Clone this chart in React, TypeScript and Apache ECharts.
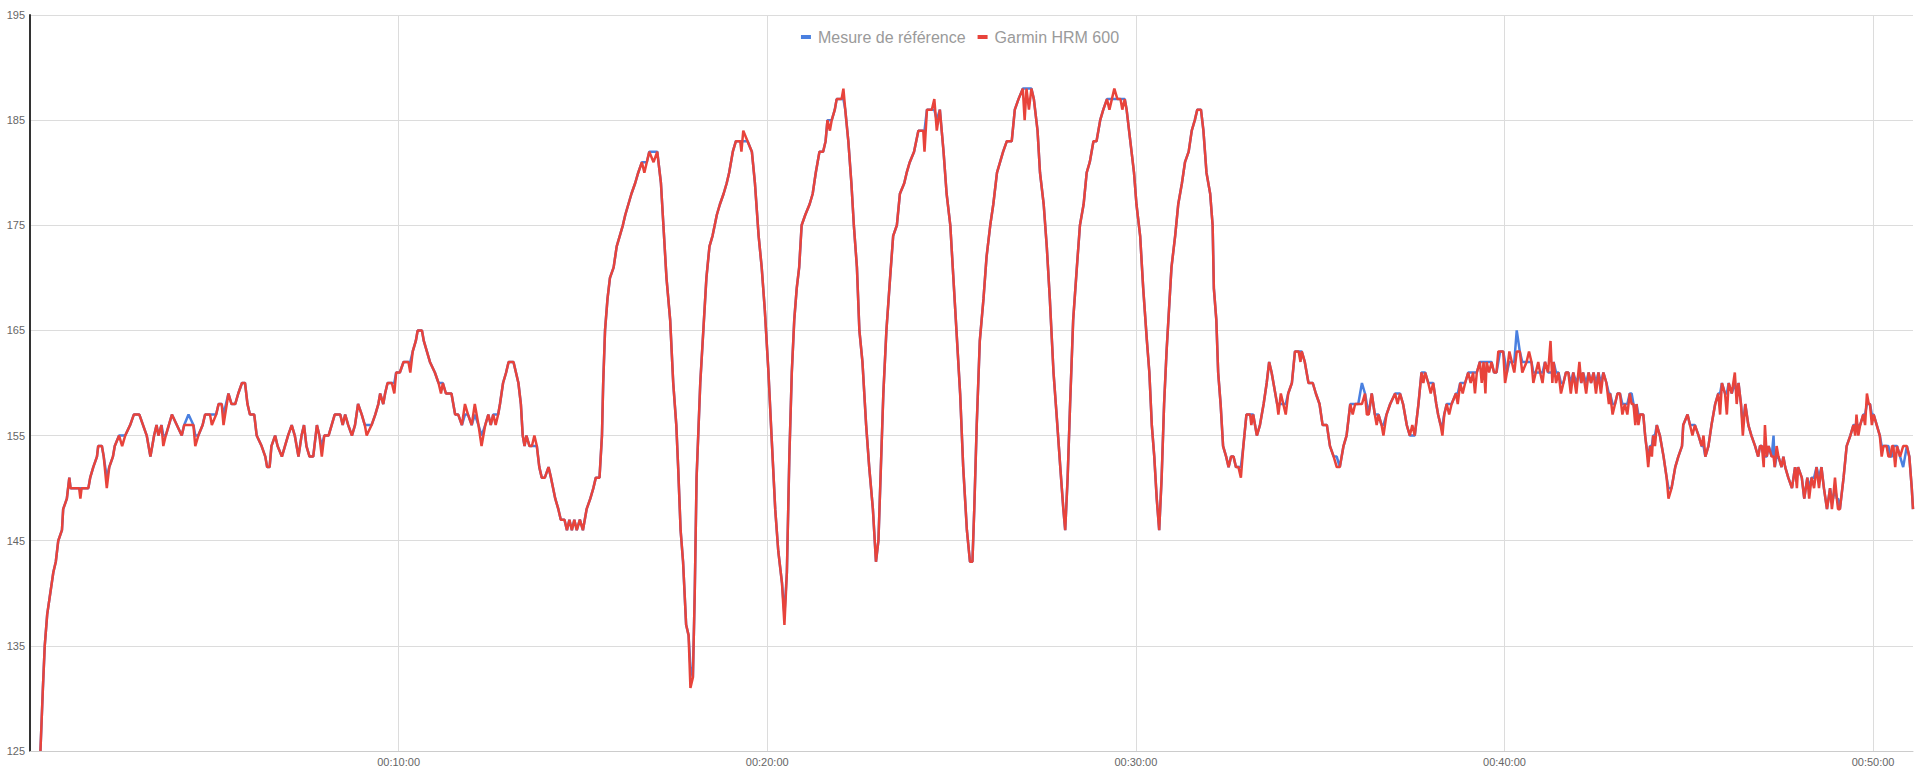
import React, { useEffect, useRef } from "react";
import * as echarts from "echarts";

// Heart rate (bpm) vs elapsed time (seconds)
const referenceHR: [number, number][] = [
[17,125],[21,131],[24,135],[28,138],[33,140],[38,142],[42,143],[46,145],[52,146],[54,148],
[60,149],[64,151],[66,150],[80,150],[82,150],[84,150],[95,150],[98,151],[103,152],[109,153],
[111,154],[117,154],[120,153],[125,151],[129,152],[135,153],[138,154],[145,155],[150,155],[155,155],
[163,156],[169,157],[178,157],[184,156],[190,155],[196,153],[202,155],[206,156],[209,155],[214,156],
[217,155],[221,155],[231,157],[239,156],[247,155],[251,156],[258,157],[266,156],[269,155],[274,155],
[281,156],[285,157],[293,157],[296,157],[303,157],[307,158],[312,158],[315,157],[323,159],[328,158],
[334,158],[339,159],[345,160],[350,160],[354,158],[358,157],[365,157],[369,155],[377,154],[383,153],
[386,152],[390,152],[393,154],[399,155],[403,154],[410,153],[415,154],[420,155],[426,156],[431,155],
[437,153],[442,155],[446,156],[450,154],[455,153],[461,153],[467,156],[471,155],[475,154],[479,155],
[486,155],[491,156],[496,157],[505,157],[509,156],[513,157],[518,156],[524,155],[529,156],[534,158],
[540,157],[545,156],[548,156],[556,156],[562,157],[567,158],[570,159],[575,158],[578,159],[582,160],
[589,160],[593,160],[596,161],[602,161],[608,162],[616,162],[619,162],[623,163],[628,164],[631,165],
[635,165],[638,165],[641,164],[646,163],[651,162],[659,161],[665,160],[669,160],[672,160],[677,159],
[686,159],[692,157],[697,157],[703,156],[708,157],[713,157],[719,156],[724,157],[730,156],[735,155],
[741,156],[746,157],[750,156],[754,157],[758,157],[762,157],[765,158],[770,160],[775,161],[779,162],
[787,162],[791,161],[795,160],[799,158],[802,155],[805,154],[808,155],[813,154],[817,154],[821,154],
[825,154],[829,152],[833,151],[838,151],[844,152],[848,151],[855,149],[860,148],[864,147],[870,147],
[874,146],[878,147],[882,146],[886,147],[890,146],[895,147],[900,146],[903,147],[906,148],[912,149],
[917,150],[921,151],[927,151],[931,155],[933,160],[936,165],[940,168],[944,170],[950,171],[955,173],
[960,174],[965,175],[969,176],[974,177],[979,178],[985,179],[990,180],[996,181],[1000,181],[1004,181],
[1008,182],[1015,182],[1021,182],[1027,179],[1031,175],[1036,170],[1042,166],[1047,160],[1052,156],[1055,152],
[1059,146],[1063,143],[1068,137],[1072,136],[1075,133],[1079,132],[1082,140],[1085,151],[1091,160],[1096,165],
[1101,170],[1106,173],[1111,174],[1118,176],[1123,177],[1129,178],[1134,179],[1138,180],[1144,182],[1149,183],
[1156,183],[1158,183],[1161,183],[1168,183],[1175,182],[1180,179],[1186,174],[1191,171],[1196,167],[1202,161],
[1207,155],[1213,148],[1218,144],[1224,141],[1228,138],[1232,142],[1236,153],[1240,161],[1244,166],[1248,169],
[1252,171],[1256,175],[1262,176],[1269,177],[1274,178],[1279,180],[1285,182],[1291,182],[1295,183],[1298,185],
[1302,185],[1305,185],[1310,186],[1313,187],[1321,187],[1324,187],[1327,186],[1332,183],[1337,179],[1341,175],
[1346,171],[1350,165],[1355,162],[1361,156],[1366,152],[1372,148],[1377,143],[1381,145],[1385,152],[1389,159],
[1394,165],[1400,170],[1405,174],[1411,175],[1416,178],[1423,179],[1427,180],[1432,181],[1439,182],[1446,184],
[1454,184],[1456,184],[1460,186],[1468,186],[1472,186],[1476,185],[1481,186],[1487,182],[1492,178],[1498,175],
[1503,170],[1508,165],[1514,159],[1519,152],[1525,146],[1530,143],[1534,143],[1537,148],[1541,156],[1546,164],
[1552,168],[1557,172],[1563,175],[1568,177],[1574,180],[1579,181],[1584,182],[1590,183],[1598,183],[1603,186],
[1609,187],[1616,188],[1619,188],[1622,188],[1626,188],[1630,188],[1634,187],[1640,184],[1644,180],[1650,177],
[1655,173],[1660,168],[1666,161],[1671,157],[1677,152],[1682,148],[1685,146],[1689,151],[1693,158],[1698,166],
[1704,171],[1709,175],[1715,177],[1720,180],[1725,181],[1731,183],[1736,183],[1742,185],[1747,186],[1753,187],
[1757,187],[1761,187],[1765,187],[1770,187],[1775,187],[1778,187],[1782,187],[1785,186],[1789,184],[1793,182],
[1797,180],[1801,177],[1807,174],[1812,169],[1818,164],[1822,161],[1826,156],[1830,153],[1834,149],[1838,146],
[1842,151],[1846,158],[1850,163],[1855,168],[1858,171],[1864,174],[1869,177],[1875,179],[1880,181],[1886,182],
[1891,184],[1896,185],[1900,186],[1906,186],[1910,184],[1915,180],[1921,178],[1925,175],[1927,169],[1931,166],
[1934,161],[1938,158],[1942,154],[1947,153],[1951,152],[1955,153],[1959,153],[1963,152],[1967,152],[1971,152],
[1975,154],[1980,157],[1986,157],[1988,157],[1991,157],[1997,155],[2002,156],[2008,158],[2013,160],[2017,162],
[2021,161],[2027,159],[2030,158],[2032,158],[2036,158],[2040,158],[2044,158],[2048,159],[2054,160],[2059,163],
[2065,163],[2068,163],[2070,163],[2075,162],[2081,160],[2088,160],[2093,159],[2099,158],[2104,156],[2111,156],
[2116,154],[2122,153],[2127,153],[2132,152],[2138,154],[2143,155],[2149,158],[2153,158],[2157,158],[2162,158],
[2168,160],[2173,159],[2176,158],[2179,157],[2184,159],[2189,157],[2192,157],[2195,157],[2200,156],[2203,156],
[2208,157],[2214,158],[2222,159],[2226,159],[2230,159],[2235,158],[2241,156],[2246,155],[2250,155],[2254,155],
[2260,158],[2265,161],[2268,161],[2271,161],[2276,160],[2280,160],[2284,160],[2289,158],[2292,157],[2296,156],
[2299,156],[2302,157],[2306,158],[2310,158],[2314,158],[2321,159],[2324,159],[2328,160],[2332,160],[2336,160],
[2341,161],[2345,161],[2349,161],[2352,161],[2355,161],[2360,162],[2363,162],[2366,162],[2369,162],[2371,162],
[2375,162],[2379,162],[2383,161],[2387,161],[2390,162],[2393,163],[2398,163],[2401,162],[2404,161],[2408,162],
[2412,162],[2416,162],[2420,165],[2425,163],[2429,162],[2436,162],[2440,162],[2444,162],[2447,161],[2451,161],
[2455,161],[2458,161],[2462,161],[2466,162],[2471,161],[2475,161],[2478,161],[2480,162],[2484,161],[2488,161],
[2492,160],[2496,160],[2500,161],[2504,161],[2508,160],[2512,161],[2517,160],[2522,161],[2525,160],[2528,161],
[2533,160],[2537,161],[2541,160],[2545,161],[2549,160],[2553,161],[2557,160],[2561,161],[2566,160],[2570,159],
[2572,159],[2576,158],[2580,158],[2584,159],[2588,159],[2592,158],[2596,158],[2600,158],[2604,159],[2607,159],
[2610,158],[2613,157],[2615,158],[2618,157],[2621,157],[2626,157],[2629,155],[2631,154],[2634,153],[2637,154],
[2640,154],[2642,155],[2645,155],[2648,156],[2653,155],[2659,153],[2664,151],[2667,150],[2672,150],[2678,152],
[2683,153],[2689,154],[2691,156],[2698,157],[2702,156],[2706,156],[2710,156],[2716,155],[2721,154],[2724,154],
[2727,153],[2732,154],[2737,156],[2743,158],[2748,159],[2751,159],[2754,160],[2759,159],[2762,159],[2765,160],
[2770,159],[2775,160],[2778,159],[2781,160],[2785,158],[2788,156],[2792,158],[2797,156],[2802,155],[2808,154],
[2813,153],[2816,154],[2819,154],[2822,153],[2824,153],[2827,153],[2830,154],[2835,153],[2838,155],[2840,152],
[2843,153],[2846,153],[2851,152],[2854,153],[2857,152],[2862,151],[2868,150],[2873,152],[2876,151],[2878,152],
[2884,151],[2888,149],[2893,151],[2896,150],[2900,151],[2904,151],[2908,152],[2912,151],[2916,152],[2920,150],
[2925,148],[2930,150],[2933,149],[2935,149],[2938,150],[2941,149],[2943,149],[2946,148],[2952,151],[2957,154],
[2963,155],[2968,156],[2971,156],[2973,156],[2976,156],[2979,156],[2984,157],[2987,157],[2990,158],[2993,158],
[2995,158],[2998,157],[3001,157],[3006,156],[3011,155],[3014,154],[3017,154],[3022,154],[3025,154],[3028,153],
[3031,153],[3033,154],[3036,154],[3039,154],[3044,153],[3049,152],[3052,153],[3055,154],[3059,153],[3063,150],
[3065,148],
];

const garminHR: [number, number][] = [
[17,125],[21,131],[24,135],[28,138],[33,140],[38,142],[42,143],[46,145],[52,146],[54,148],
[60,149],[64,151],[66,150],[80,150],[82,149],[84,150],[95,150],[98,151],[103,152],[109,153],
[111,154],[117,154],[120,153],[125,150],[129,152],[135,153],[138,154],[145,155],[150,154],[155,155],
[163,156],[169,157],[178,157],[184,156],[190,155],[196,153],[202,155],[206,156],[209,155],[214,156],
[217,154],[221,155],[231,157],[239,156],[247,155],[251,156],[258,156],[266,156],[269,154],[274,155],
[281,156],[285,157],[293,157],[296,156],[303,157],[307,158],[312,158],[315,156],[323,159],[328,158],
[334,158],[339,159],[345,160],[350,160],[354,158],[358,157],[365,157],[369,155],[377,154],[383,153],
[386,152],[390,152],[393,154],[399,155],[403,154],[410,153],[415,154],[420,155],[426,156],[431,155],
[437,153],[442,155],[446,156],[450,154],[455,153],[461,153],[467,156],[471,155],[475,153],[479,155],
[486,155],[491,156],[496,157],[505,157],[509,156],[513,157],[518,156],[524,155],[529,156],[534,158],
[540,157],[545,156],[548,155],[556,156],[562,157],[567,158],[570,159],[575,158],[578,159],[582,160],
[589,160],[593,159],[596,161],[602,161],[608,162],[616,162],[619,161],[623,163],[628,164],[631,165],
[635,165],[638,165],[641,164],[646,163],[651,162],[659,161],[665,160],[669,159],[672,160],[677,159],
[686,159],[692,157],[697,157],[703,156],[708,158],[713,157],[719,156],[724,158],[730,156],[735,154],
[741,156],[746,157],[750,156],[754,157],[758,156],[762,157],[765,158],[770,160],[775,161],[779,162],
[787,162],[791,161],[795,160],[799,158],[802,155],[805,154],[808,155],[813,154],[817,154],[821,155],
[825,154],[829,152],[833,151],[838,151],[844,152],[848,151],[855,149],[860,148],[864,147],[870,147],
[874,146],[878,147],[882,146],[886,147],[890,146],[895,147],[900,146],[903,147],[906,148],[912,149],
[917,150],[921,151],[927,151],[931,155],[933,160],[936,165],[940,168],[944,170],[950,171],[955,173],
[960,174],[965,175],[969,176],[974,177],[979,178],[985,179],[990,180],[996,181],[1000,180],[1004,181],
[1008,182],[1015,181],[1021,182],[1027,179],[1031,175],[1036,170],[1042,166],[1047,160],[1052,156],[1055,152],
[1059,146],[1063,143],[1068,137],[1072,136],[1075,131],[1079,132],[1082,140],[1085,151],[1091,160],[1096,165],
[1101,170],[1106,173],[1111,174],[1118,176],[1123,177],[1129,178],[1134,179],[1138,180],[1144,182],[1149,183],
[1156,183],[1158,182],[1161,184],[1168,183],[1175,182],[1180,179],[1186,174],[1191,171],[1196,167],[1202,161],
[1207,155],[1213,148],[1218,144],[1224,141],[1228,137],[1232,142],[1236,153],[1240,161],[1244,166],[1248,169],
[1252,171],[1256,175],[1262,176],[1269,177],[1274,178],[1279,180],[1285,182],[1291,182],[1295,183],[1298,185],
[1302,184],[1305,185],[1310,186],[1313,187],[1321,187],[1324,188],[1327,186],[1332,183],[1337,179],[1341,175],
[1346,171],[1350,165],[1355,162],[1361,156],[1366,152],[1372,148],[1377,143],[1381,145],[1385,152],[1389,159],
[1394,165],[1400,170],[1405,174],[1411,175],[1416,178],[1423,179],[1427,180],[1432,181],[1439,182],[1446,184],
[1454,184],[1456,182],[1460,186],[1468,186],[1472,187],[1476,184],[1481,186],[1487,182],[1492,178],[1498,175],
[1503,170],[1508,165],[1514,159],[1519,152],[1525,146],[1530,143],[1534,143],[1537,148],[1541,156],[1546,164],
[1552,168],[1557,172],[1563,175],[1568,177],[1574,180],[1579,181],[1584,182],[1590,183],[1598,183],[1603,186],
[1609,187],[1616,188],[1619,185],[1622,188],[1626,186],[1630,188],[1634,187],[1640,184],[1644,180],[1650,177],
[1655,173],[1660,168],[1666,161],[1671,157],[1677,152],[1682,148],[1685,146],[1689,151],[1693,158],[1698,166],
[1704,171],[1709,175],[1715,177],[1720,180],[1725,181],[1731,183],[1736,183],[1742,185],[1747,186],[1753,187],
[1757,186],[1761,187],[1765,188],[1770,187],[1775,187],[1778,186],[1782,187],[1785,186],[1789,184],[1793,182],
[1797,180],[1801,177],[1807,174],[1812,169],[1818,164],[1822,161],[1826,156],[1830,153],[1834,149],[1838,146],
[1842,151],[1846,158],[1850,163],[1855,168],[1858,171],[1864,174],[1869,177],[1875,179],[1880,181],[1886,182],
[1891,184],[1896,185],[1900,186],[1906,186],[1910,184],[1915,180],[1921,178],[1925,175],[1927,169],[1931,166],
[1934,161],[1938,158],[1942,154],[1947,153],[1951,152],[1955,153],[1959,153],[1963,152],[1967,152],[1971,151],
[1975,154],[1980,157],[1986,157],[1988,156],[1991,157],[1997,155],[2002,156],[2008,158],[2013,160],[2017,162],
[2021,161],[2027,159],[2030,158],[2032,157],[2036,159],[2040,158],[2044,157],[2048,159],[2054,160],[2059,163],
[2065,163],[2068,162],[2070,163],[2075,162],[2081,160],[2088,160],[2093,159],[2099,158],[2104,156],[2111,156],
[2116,154],[2122,153],[2127,152],[2132,152],[2138,154],[2143,155],[2149,158],[2153,157],[2157,158],[2162,158],
[2168,158],[2173,159],[2176,157],[2179,157],[2184,159],[2189,157],[2192,156],[2195,157],[2200,156],[2203,155],
[2208,157],[2214,158],[2222,159],[2226,158],[2230,159],[2235,158],[2241,156],[2246,155],[2250,156],[2254,155],
[2260,158],[2265,161],[2268,160],[2271,161],[2276,160],[2280,159],[2284,160],[2289,158],[2292,157],[2296,156],
[2299,155],[2302,157],[2306,158],[2310,157],[2314,158],[2321,159],[2324,158],[2328,160],[2332,159],[2336,160],
[2341,161],[2345,160],[2349,161],[2352,159],[2355,161],[2360,162],[2363,160],[2366,162],[2369,159],[2371,162],
[2375,161],[2379,162],[2383,161],[2387,161],[2390,163],[2393,163],[2398,163],[2401,160],[2404,161],[2408,163],
[2412,162],[2416,161],[2420,163],[2425,163],[2429,161],[2436,162],[2440,163],[2444,162],[2447,160],[2451,161],
[2455,162],[2458,161],[2462,160],[2466,162],[2471,161],[2475,164],[2478,160],[2480,162],[2484,160],[2488,161],
[2492,159],[2496,160],[2500,161],[2504,161],[2508,159],[2512,161],[2517,159],[2522,162],[2525,160],[2528,161],
[2533,159],[2537,161],[2541,160],[2545,161],[2549,159],[2553,161],[2557,159],[2561,161],[2566,160],[2570,158],
[2572,159],[2576,157],[2580,158],[2584,159],[2588,159],[2592,157],[2596,158],[2600,157],[2604,159],[2607,158],
[2610,158],[2613,156],[2615,158],[2618,156],[2621,157],[2626,157],[2629,155],[2631,154],[2634,152],[2637,154],
[2640,153],[2642,155],[2645,154],[2648,156],[2653,155],[2659,153],[2664,151],[2667,149],[2672,150],[2678,152],
[2683,153],[2689,154],[2691,156],[2698,157],[2702,156],[2706,155],[2710,156],[2716,155],[2721,154],[2724,155],
[2727,153],[2732,154],[2737,156],[2743,158],[2748,159],[2751,157],[2754,160],[2759,159],[2762,157],[2765,160],
[2770,159],[2775,161],[2778,158],[2781,160],[2785,158],[2788,155],[2792,158],[2797,156],[2802,155],[2808,154],
[2813,153],[2816,154],[2819,154],[2822,152],[2824,156],[2827,153],[2830,154],[2835,153],[2838,153],[2840,152],
[2843,154],[2846,153],[2851,152],[2854,153],[2857,152],[2862,151],[2868,150],[2873,152],[2876,150],[2878,152],
[2884,151],[2888,149],[2893,151],[2896,149],[2900,151],[2904,150],[2908,152],[2912,150],[2916,152],[2920,150],
[2925,148],[2930,150],[2933,148],[2935,149],[2938,151],[2941,149],[2943,148],[2946,148],[2952,151],[2957,154],
[2963,155],[2968,156],[2971,155],[2973,157],[2976,155],[2979,156],[2984,157],[2987,156],[2990,159],[2993,158],
[2995,158],[2998,156],[3001,157],[3006,156],[3011,155],[3014,153],[3017,154],[3022,154],[3025,153],[3028,153],
[3031,154],[3033,154],[3036,152],[3039,154],[3044,153],[3049,154],[3052,154],[3055,154],[3059,153],[3063,150],
[3065,148],
];

const seriesNames = ["Mesure de référence", "Garmin HRM 600"];
const seriesColors = ["#4a80e0", "#e8433b"];

const X_MIN = 0;
const X_MAX = 3065;
const X_STEP = 600;
const Y_MIN = 125;
const Y_MAX = 195;
const Y_STEP = 10;

const pad = (n: number) => String(n).padStart(2, "0");
const formatTime = (s: number) => {
  const h = Math.floor(s / 3600);
  const m = Math.floor((s % 3600) / 60);
  const sec = Math.floor(s % 60);
  return `${pad(h)}:${pad(m)}:${pad(sec)}`;
};

export default function App() {
  const ref = useRef<HTMLDivElement>(null);

  useEffect(() => {
    if (!ref.current) return;
    const chart = echarts.init(ref.current, undefined, { renderer: "svg" });
    const font = "Arial, 'Liberation Sans', sans-serif";
    chart.setOption({
      animation: false,
      backgroundColor: "#ffffff",
      legend: {
        top: 24,
        left: "center",
        icon: "rect",
        itemWidth: 10,
        itemHeight: 4,
        itemGap: 12,
        textStyle: { color: "#9a9a9a", fontSize: 16, fontFamily: font, padding: [0, 0, 0, 2] },
        data: seriesNames,
      },
      grid: { left: 30, right: 7, top: 15, bottom: 20, containLabel: false },
      xAxis: {
        type: "value",
        min: X_MIN,
        max: X_MAX,
        interval: X_STEP,
        axisLine: { show: true, lineStyle: { color: "#cccccc", width: 1 } },
        axisTick: { show: false },
        axisLabel: {
          color: "#666666",
          fontSize: 11,
          fontFamily: font,
          margin: 5,
          formatter: (v: number) => (v === 0 || v % X_STEP !== 0 ? "" : formatTime(v)),
        },
        splitLine: {
          show: true,
          showMinLine: false,
          showMaxLine: false,
          lineStyle: { color: "#dcdcdc", width: 1 },
        },
      },
      yAxis: {
        type: "value",
        min: Y_MIN,
        max: Y_MAX,
        interval: Y_STEP,
        axisLine: { show: true, onZero: false, lineStyle: { color: "#333333", width: 2 } },
        axisTick: { show: false },
        axisLabel: { color: "#666666", fontSize: 11, fontFamily: font, margin: 5 },
        splitLine: { show: true, lineStyle: { color: "#dcdcdc", width: 1 } },
      },
      series: [
        {
          name: seriesNames[0],
          type: "line",
          data: referenceHR,
          showSymbol: false,
          symbol: "none",
          color: seriesColors[0],
          lineStyle: { width: 2.5, color: seriesColors[0] },
          z: 2,
        },
        {
          name: seriesNames[1],
          type: "line",
          data: garminHR,
          showSymbol: false,
          symbol: "none",
          color: seriesColors[1],
          lineStyle: { width: 2.5, color: seriesColors[1] },
          z: 3,
        },
      ],
    });
    return () => chart.dispose();
  }, []);

  return (
    <div
      ref={ref}
      style={{ position: "fixed", left: 0, top: 0, width: "1920px", height: "771px", background: "#fff" }}
    />
  );
}
